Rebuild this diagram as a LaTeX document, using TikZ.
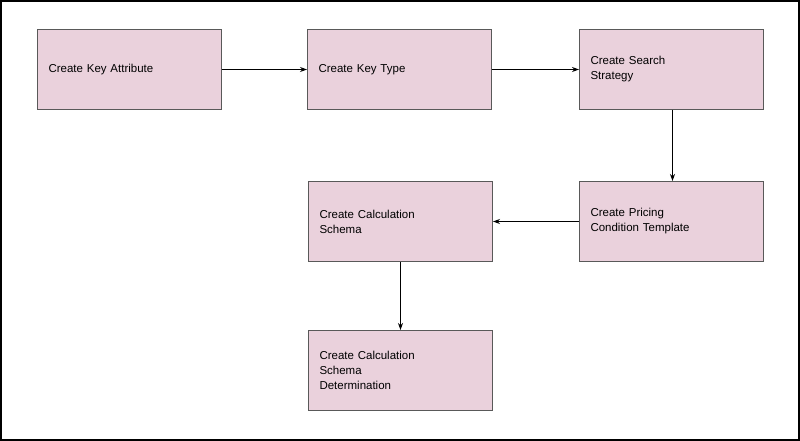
\documentclass[tikz,border=0pt]{standalone}
\usepackage{fontspec}
\setmainfont{Liberation Sans}
\usetikzlibrary{arrows.meta}
\definecolor{boxfill}{HTML}{EAD1DC}
\definecolor{boxline}{HTML}{595959}
\begin{document}
\begin{tikzpicture}[x=1pt,y=-1pt,
  box/.style={draw=boxline,line width=1pt,fill=boxfill,minimum width=184pt,minimum height=80pt,
    text width=162pt,inner xsep=11pt,align=left,font=\fontsize{11.5pt}{15pt}\selectfont,anchor=north west},
  arr/.style={-{Stealth[length=7pt,width=5pt]},line width=0.8pt}]
\useasboundingbox (0,0) rectangle (800,441);
\draw[line width=1.5pt] (1,1) rectangle (799,440);
\node[box] (a) at (37,29) {Create Key Attribute};
\node[box] (b) at (307,29) {Create Key Type};
\node[box] (c) at (579,29) {Create Search\\Strategy};
\node[box] (d) at (579,181) {Create Pricing\\Condition Template};
\node[box] (e) at (308,181) {Create Calculation\\Schema};
\node[box] (f) at (308,330) {Create Calculation\\Schema\\Determination};
\draw[arr] (a) -- (b);
\draw[arr] (b) -- (c);
\draw[arr] ([xshift=1pt]c.south) -- ([xshift=1pt]d.north);
\draw[arr] (d) -- (e);
\draw[arr] ([xshift=0pt]e.south) -- (f.north);
\end{tikzpicture}
\end{document}
